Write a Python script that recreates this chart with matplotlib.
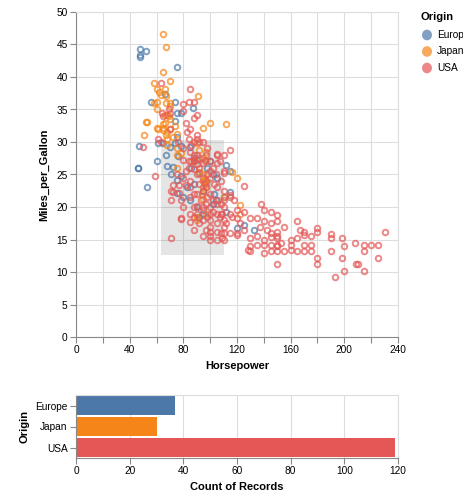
import matplotlib
matplotlib.use("Agg")
import matplotlib.pyplot as plt
from matplotlib.patches import Rectangle

plt.rcParams['font.family'] = ['Liberation Sans', 'DejaVu Sans']

# colours per origin
origins = ['Europe', 'Japan', 'USA']
colors = {'Europe': '#4c78a8', 'Japan': '#f58518', 'USA': '#e45756'}

# scatter data (Horsepower, Miles_per_Gallon)
europe_hp = [48, 48, 48, 52, 75, 56, 66, 74, 87, 78, 75, 74, 75, 74, 61, 65, 47, 70, 78, 85,
             60, 46, 46, 68, 72, 76, 90, 86, 92, 75, 53, 75, 85, 102, 104, 112, 120, 125, 133,
             115, 112, 115, 110, 97, 103, 88, 90, 95, 83, 71, 78, 80, 98, 102, 67, 88, 100, 105, 95, 92]
europe_mpg = [44.3, 43.4, 43.1, 44.0, 41.5, 36.2, 37.4, 36.2, 35.2, 34.4, 34.5, 33.3, 30.8, 29.8, 29.8, 29.8, 29.4, 29.3, 29.4, 29.3,
              27.1, 26.0, 26.0, 26.3, 26.2, 27.8, 27.2, 26.0, 25.2, 24.2, 23.0, 22.1, 21.1, 20.5, 21.0, 19.3, 16.7, 17.2, 16.4,
              25.5, 26.5, 22.3, 21.6, 24.0, 22.0, 23.5, 20.0, 19.0, 23.0, 25.0, 24.8, 21.5, 26.0, 25.0, 28.0, 27.5, 27.0, 24.5, 22.5, 18.5]

japan_hp = [65, 67, 65, 58, 70, 60, 66, 63, 67, 62, 91, 60, 60, 68, 69, 66, 52, 53, 70, 65,
            100, 112, 95, 74, 60, 51, 66, 65, 70, 67, 68, 65, 72, 75, 68, 90, 92, 97, 78, 75,
            88, 88, 92, 96, 95, 97, 95, 97, 95, 90, 120, 122, 97, 110, 95, 75, 97, 90, 122, 88,
            94, 97, 95, 67, 70, 61, 75, 68, 70, 58, 116]
japan_mpg = [46.6, 44.6, 40.8, 39.1, 39.4, 38.1, 38.1, 37.2, 37.0, 37.7, 37.0, 36.1, 35.1, 34.1, 34.0, 34.2, 33.0, 33.0, 33.5, 32.8,
             32.9, 32.7, 32.2, 32.5, 32.2, 31.1, 32.9, 32.1, 32.0, 31.0, 31.5, 31.8, 30.8, 31.3, 29.5, 29.8, 28.8, 28.5, 28.3, 29.0,
             27.0, 27.2, 25.4, 24.2, 24.0, 24.0, 25.0, 23.1, 21.3, 18.5, 24.4, 20.3, 19.0, 21.5, 27.5, 26.0, 27.2, 18.0, 19.0, 27.0,
             22.0, 23.9, 23.0, 36.0, 36.0, 32.0, 28.0, 30.5, 35.5, 36.0, 25.4]

usa_hp = [63, 85, 80, 84, 88, 80, 64, 69, 90, 88, 83, 82, 70, 84, 90, 88, 63, 61, 50, 59, 65, 70, 85, 92, 76, 80,
          85, 88, 90, 80, 84, 86, 88, 90, 92, 95, 97, 100, 105, 105, 110, 110, 115, 105, 98, 95, 90, 88, 85, 80,
          75, 72, 77, 82, 71, 71, 77, 72, 85, 88, 90, 92, 95, 97, 100, 105, 100, 103, 108, 110, 108, 105, 100, 97,
          95, 93, 90, 88, 85, 80, 78, 100, 102, 105, 107, 110, 100, 98, 95, 92, 90, 88, 85, 78, 78, 100, 105, 110,
          100, 105, 100, 110, 71, 97, 95, 108, 110, 108, 105, 110, 95, 98, 102, 85, 88, 84, 82, 92, 96, 98, 95, 90,
          86, 102, 104, 107, 100, 96,
          110, 125, 115, 115, 109, 120, 120, 109, 128, 130, 125, 130, 135, 140, 140, 138, 145, 150, 150, 145, 165,
          130, 137, 142, 145, 150, 150, 150, 155, 145, 140, 135, 145, 150, 155, 160, 160, 165, 165, 170, 170, 170,
          175, 175, 170, 180, 180, 180, 180, 190, 190, 190, 198, 198, 200, 193, 209, 210, 215, 215, 215, 220, 225,
          225, 230, 150, 125, 115, 130, 140, 150, 160, 145, 150, 100, 105, 110, 120, 112, 116, 120, 118, 115, 122,
          135, 140, 153, 167, 175, 200, 208]
usa_mpg = [39.1, 38.1, 35.9, 36.2, 36.2, 34.7, 34.5, 35.0, 34.2, 33.7, 31.6, 32.9, 32.0, 30.5, 31.0, 30.0, 30.0, 30.5, 29.2, 24.7, 34.0, 34.5, 32.0, 30.0, 30.0, 29.0,
           28.4, 28.0, 28.0, 27.2, 27.0, 27.0, 27.0, 26.6, 26.0, 26.8, 28.0, 27.0, 28.0, 26.7, 25.5, 28.0, 28.8, 28.1, 25.0, 24.5, 25.0, 25.8, 24.0, 24.5,
           25.0, 23.4, 23.4, 23.4, 22.4, 21.1, 22.1, 22.3, 23.0, 22.0, 22.0, 23.5, 22.5, 23.0, 22.0, 23.0, 24.5, 23.5, 24.0, 22.5, 20.5, 21.0, 20.0, 20.5,
           20.0, 21.0, 20.2, 20.0, 21.5, 20.0, 21.0, 19.0, 19.2, 19.0, 18.5, 18.0, 18.0, 18.5, 18.0, 17.5, 19.0, 18.5, 17.7, 18.1, 18.3, 17.0, 17.5, 17.0,
           16.2, 16.2, 15.0, 15.0, 15.2, 16.5, 15.5, 16.0, 20.0, 19.0, 20.5, 21.0, 19.5, 21.5, 21.0, 19.0, 16.5, 26.0, 25.5, 27.5, 27.0, 29.0, 30.0, 30.5,
           29.5, 26.0, 25.0, 27.0, 25.5, 23.5,
           25.2, 23.2, 21.6, 21.8, 19.0, 18.3, 15.7, 15.2, 13.4, 13.2, 19.3, 18.3, 18.3, 17.9, 19.5, 20.5, 19.3, 18.8, 17.9, 17.6, 17.9,
           15.2, 17.0, 16.5, 15.4, 16.2, 15.2, 14.2, 17.0, 14.2, 14.2, 14.2, 13.3, 13.3, 13.3, 14.2, 13.4, 15.2, 13.3, 16.2, 15.7, 14.2,
           14.2, 13.3, 13.3, 16.7, 16.2, 12.1, 11.2, 15.8, 15.2, 13.2, 15.2, 12.1, 10.2, 9.2, 11.2, 11.2, 14.2, 13.2, 10.2, 14.2, 14.2,
           12.1, 16.2, 11.2, 16.5, 16.0, 14.0, 15.0, 15.5, 15.0, 16.0, 14.0, 15.5, 15.0, 16.0, 16.0, 17.5, 18.5, 19.5, 21.0, 19.0, 17.5,
           15.5, 13.0, 14.5, 16.5, 15.5, 14.0, 14.5]

# brushed selection and resulting counts
brush_hp = [63, 110.5]
brush_mpg = [12.6, 30.3]
counts = [37, 30, 119]

W, H = 464, 494
fig = plt.figure(figsize=(W / 100, H / 100), dpi=100)

grid_c = '#dddddd'
axis_c = '#888888'
lab_fs = 7.3
title_fs = 8.0


def style(ax):
    for s in ['top', 'right']:
        ax.spines[s].set_color(grid_c)
        ax.spines[s].set_linewidth(0.8)
    for s in ['left', 'bottom']:
        ax.spines[s].set_color(axis_c)
        ax.spines[s].set_linewidth(0.8)
    ax.tick_params(direction='out', length=4, width=0.8, color=axis_c,
                   labelsize=lab_fs, labelcolor='#000000', pad=2)
    ax.set_axisbelow(True)


# scatter
ax = fig.add_axes([76 / W, 1 - 337 / H, 322 / W, 325 / H])
style(ax)
ax.add_patch(Rectangle((brush_hp[0], brush_mpg[0]), brush_hp[1] - brush_hp[0],
                       brush_mpg[1] - brush_mpg[0], facecolor='#333333', alpha=0.125,
                       edgecolor='none', zorder=1))
data = {'Europe': (europe_hp, europe_mpg), 'Japan': (japan_hp, japan_mpg), 'USA': (usa_hp, usa_mpg)}
for o in origins:
    hp, mpg = data[o]
    ax.plot(hp, mpg, 'o', ms=4.0, mfc='none', mec=colors[o], mew=1.4, alpha=0.7,
            zorder=2, clip_on=False)
ax.set_xlim(0, 240)
ax.set_ylim(0, 50)
ax.set_xticks(range(0, 241, 20))
ax.set_xticklabels([str(v) if v % 40 == 0 else '' for v in range(0, 241, 20)])
ax.set_yticks(range(0, 51, 5))
ax.grid(True, color=grid_c, lw=0.8)
ax.set_xlabel('Horsepower', fontsize=title_fs, fontweight='bold', labelpad=4)
ax.set_ylabel('Miles_per_Gallon', fontsize=title_fs, fontweight='bold', labelpad=5)

# legend
fig.text(421 / W, 1 - 17 / H, 'Origin', fontsize=title_fs, fontweight='bold', va='center', ha='left')
for i, o in enumerate(origins):
    y = 35 + i * 16.5
    fig.patches.append(plt.Circle((427 / W, 1 - y / H), 5 / W, transform=fig.transFigure,
                                  facecolor=colors[o], alpha=0.7, edgecolor='none'))
    fig.text(437 / W, 1 - y / H, o, fontsize=lab_fs, va='center', ha='left')

# bar chart of counts
bx = fig.add_axes([76 / W, 1 - 458 / H, 322 / W, 63 / H])
style(bx)
bx.barh(range(3), counts, height=0.91, color=[colors[o] for o in origins])
bx.set_ylim(2.5, -0.5)
bx.set_xlim(0, 120)
bx.set_yticks(range(3))
bx.set_yticklabels(origins)
bx.set_xticks(range(0, 121, 20))
bx.grid(True, axis='x', color=grid_c, lw=0.8)
bx.set_xlabel('Count of Records', fontsize=title_fs, fontweight='bold', labelpad=4)
bx.set_ylabel('Origin', fontsize=title_fs, fontweight='bold', labelpad=4)

fig.savefig('out.png', dpi=100)
